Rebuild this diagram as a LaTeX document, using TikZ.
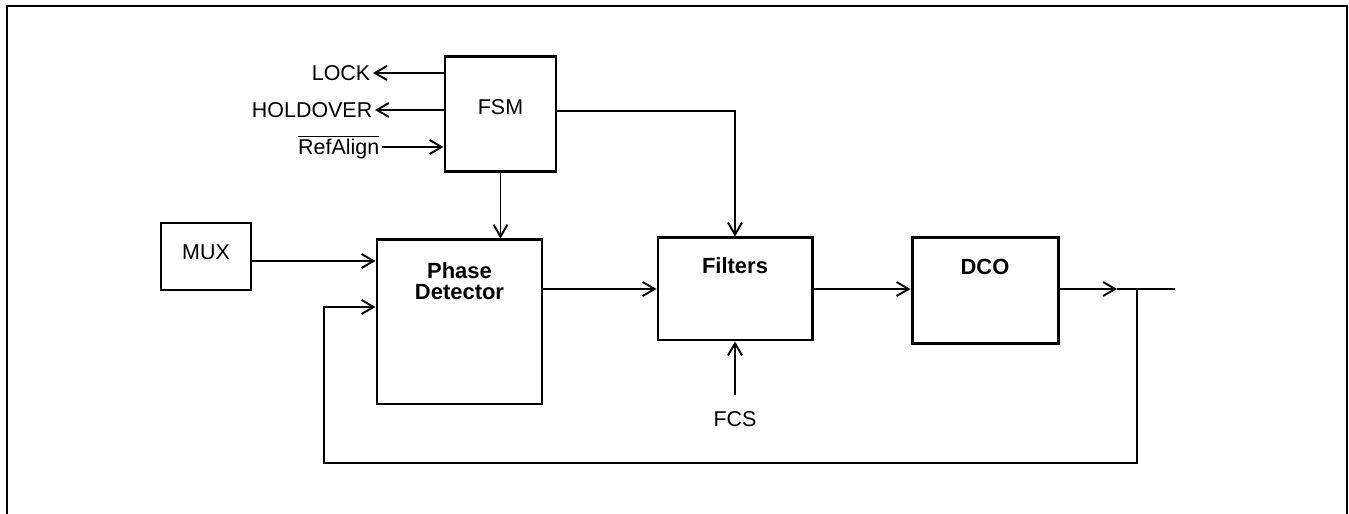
\documentclass[tikz,border=0pt]{standalone}
\usepackage{fontspec}
\setmainfont{Liberation Sans}
\usetikzlibrary{arrows.meta,positioning}
\begin{document}
\begin{tikzpicture}[>={Straight Barb[length=2.4mm,width=2.8mm]},line width=1.1pt,font=\fontsize{12.2}{14}\selectfont,
    blockbox/.style={draw,line width=1.7pt,inner sep=0pt},
    boldlbl/.style={font=\fontsize{12.5}{12}\selectfont\bfseries,align=center}]
    \useasboundingbox (0,0) rectangle (26.98,10.28);
    % frame, open at the bottom
    \draw (0.14,0) -- (0.14,10.16) -- (26.94,10.16) -- (26.94,0);
    \node[blockbox,minimum width=2.22cm,minimum height=2.30cm,label={[yshift=0.15cm]center:FSM}] (fsm) at (10.01,7.99) {};
    \node[draw,inner sep=0pt,minimum width=1.80cm,minimum height=1.34cm,label={[yshift=0.09cm]center:MUX}] (mux) at (4.12,5.15) {};
    \node[blockbox,minimum width=3.30cm,minimum height=3.28cm,label={[boldlbl,yshift=0.82cm]center:Phase\\Detector}] (pd) at (9.19,3.84) {};
    \node[blockbox,minimum width=3.08cm,minimum height=2.04cm,label={[boldlbl,yshift=0.46cm]center:Filters}] (filt) at (14.70,4.50) {};
    \node[blockbox,minimum width=2.92cm,minimum height=2.12cm,label={[boldlbl,yshift=0.48cm]center:DCO}] (dco) at (19.70,4.46) {};
    \node[inner sep=0.3cm] (fcs) at (14.70,1.90) {FCS};
    \coordinate (lockend) at (7.46,8.82);
    \coordinate (holdend) at (7.50,8.08);
    \coordinate (refin) at (7.64,7.34);
    \coordinate (tip) at (22.34,4.50);
    \coordinate (junc) at (22.74,4.50);
    \coordinate (outend) at (23.50,4.50);
    \coordinate (fbcorner) at (6.48,1.02);
    % FSM signals
    \draw[->] (fsm.west |- lockend) -- (lockend) node[left,inner sep=1pt] {LOCK};
    \draw[->] (fsm.west |- holdend) -- (holdend) node[left,inner sep=1pt] {HOLDOVER};
    \draw[->] (refin) node[left,inner sep=1pt] {$\overline{\mbox{RefAlign}}$} -- (fsm.west |- refin);
    \draw[->] (fsm.south) -- (fsm.south |- pd.north);
    \draw[->] ([yshift=0.07cm]fsm.east) -| (filt.north);
    % main path
    \draw[->] ([yshift=-0.09cm]mux.east) -- ([yshift=-0.09cm]mux.east -| pd.west);
    \draw[->] (pd.east |- filt.west) -- (filt.west);
    \draw[->] (filt.east) -- (filt.east -| dco.west);
    \draw[->] (fcs.north) -- (filt.south);
    \draw[->] (dco.east |- tip) -- (tip);
    \draw (tip) -- (outend);
    % feedback
    \draw[->] (junc) |- (fbcorner) |- ([yshift=0.30cm]pd.west);
\end{tikzpicture}
\end{document}
